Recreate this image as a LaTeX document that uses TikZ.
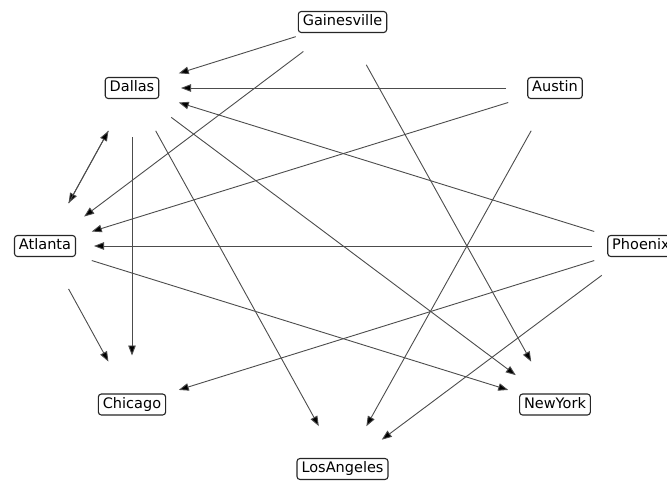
\documentclass[tikz,border=0pt]{standalone}
\usepackage{fontspec}
\setmainfont{DejaVu Sans}
\usetikzlibrary{arrows.meta}
\tikzset{
  city/.style={draw=black!85, line width=1.1pt, rounded corners=3pt, fill=white,
    inner xsep=4.5pt, inner ysep=3.6pt, text height=10.8pt, text depth=3pt,
    font=\fontsize{14.5}{17}\selectfont},
  edge/.style={draw=black!70, line width=0.9pt, shorten >=49pt, shorten <=49pt,
    -{Triangle[length=10pt,width=7.5pt,fill=black]}},
}
\begin{document}
\begin{tikzpicture}[x=1pt,y=-1pt]
\useasboundingbox (0,0) rectangle (667,485);
\node[city] (G)  at (342.5,22)  {Gainesville};
\node[city] (Au) at (555,88)    {Austin};
\node[city] (D)  at (132,88)    {Dallas};
\node[city] (P)  at (641,246)   {Phoenix};
\node[city] (At) at (45,246)    {Atlanta};
\node[city] (C)  at (132,404.5) {Chicago};
\node[city] (NY) at (555,404.5) {NewYork};
\node[city] (LA) at (342.5,469) {LosAngeles};
\foreach \a/\b in {G/D, G/At, G/NY, Au/D, Au/At, Au/LA, P/D, P/At, P/C, P/LA,
                   D/At, At/D, D/C, D/LA, D/NY, At/C, At/NY}
  \draw[edge] (\a.center) -- (\b.center);
\end{tikzpicture}
\end{document}
